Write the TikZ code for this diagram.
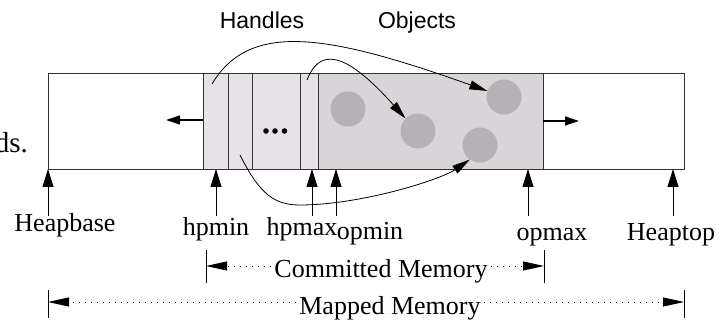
\documentclass[tikz,border=0pt]{standalone}
\usepackage{fontspec}
\setmainfont{Liberation Serif}
\setsansfont{Liberation Sans}
\usetikzlibrary{arrows.meta}
\definecolor{hfill}{HTML}{E6E2E8}
\definecolor{ofill}{HTML}{D8D4D8}
\definecolor{cfill}{HTML}{B5B1B5}
\definecolor{edgec}{HTML}{333333}
\begin{document}
\begin{tikzpicture}[x=1pt,y=-1pt,
  box/.style={draw=edgec,line width=0.9pt},
  obj/.style={circle,fill=cfill,minimum size=35pt,inner sep=0pt},
  lbl/.style={font=\fontsize{26}{28}\selectfont,anchor=base,inner sep=0pt},
  slbl/.style={font=\sffamily\fontsize{23}{26}\selectfont,anchor=base,inner sep=0pt},
  ptr/.style={line width=0.9pt,-{Triangle[length=18pt,width=11pt]}},
  growarrow/.style={line width=1.2pt,-{Triangle[length=14pt,width=9pt]}},
  link/.style={line width=0.8pt,-{Triangle[length=18pt,width=9pt]}},
  dimline/.style={line width=0.9pt,dash pattern=on 1pt off 5pt,-{Triangle[length=21pt,width=9pt]}},
  tickline/.style={line width=0.9pt},
]
\useasboundingbox (0,0) rectangle (726,320);
\fill[white] (0,0) rectangle (726,320);
% clipped fragment of text (cut off in the reference as well)
\node[font=\fontsize{29}{30}\selectfont,anchor=base east,inner sep=0pt] (frag) at (28,153) {ds.};
% heap
\draw[box] (48,73) rectangle (684,169);
\filldraw[box,fill=hfill] (203,73) rectangle (318,169);
\filldraw[box,fill=ofill] (318,73) rectangle (543,169);
\draw[box] (228,73) -- (228,169);
\draw[box] (252,73) -- (252,169);
\draw[box] (300,73) -- (300,169);
% dots
\fill (266,131) circle[radius=2.8pt];
\fill (275,131) circle[radius=2.8pt];
\fill (284.5,131) circle[radius=2.8pt];
% objects
\node[obj] (o1) at (348,109) {};
\node[obj] (o2) at (418,131) {};
\node[obj] (o3) at (504,97) {};
\node[obj] (o4) at (480,145) {};
% growth arrows
\coordinate (gl0) at (203,120);
\coordinate (gl1) at (166,120);
\coordinate (gr0) at (543,121);
\coordinate (gr1) at (579,121);
\draw[growarrow] (gl0) -- (gl1);
\draw[growarrow] (gr0) -- (gr1);
% handle links
\coordinate (h1) at (212,84);
\coordinate (h2) at (307,80);
\coordinate (h3) at (240,155);
\draw[link] (h1) .. controls (250,20) and (330,35) .. (o3.160);
\draw[link] (h2) .. controls (318,52) and (340,45) .. (o2.135);
\draw[link] (h3) .. controls (260,195) and (275,205) .. (300,205) .. controls (360,205) and (440,180) .. (o4.235);
% titles
\node[slbl] (hl) at (262,29) {Handles};
\node[slbl] (ol) at (417,29) {Objects};
% pointers
\foreach \n/\x in {hb/48,hpn/216,hpx/312,opn/336,opx/528,ht/673}{
  \coordinate (\n T) at (\x,169);
  \coordinate (\n B) at (\x,216);
  \draw[ptr] (\n B) -- (\n T);
}
\node[lbl] (lhb) at (65,232) {Heapbase};
\node[lbl] (lhpn) at (216,236) {hpmin};
\node[lbl] (lhpx) at (302,236) {hpmax};
\node[lbl] (lopn) at (370,240) {opmin};
\node[lbl] (lopx) at (552,241) {opmax};
\node[lbl] (lht) at (671,241) {Heaptop};
% committed memory
\node[lbl] (cm) at (381,278) {Committed Memory};
\coordinate (cmL) at (206,266);
\coordinate (cmR) at (544,266);
\draw[tickline] (206,250) -- (206,283);
\draw[tickline] (544,250) -- (544,283);
\draw[dimline] ([xshift=-3pt]cm.west |- cmL) -- (cmL);
\draw[dimline] ([xshift=3pt]cm.east |- cmR) -- (cmR);
% mapped memory
\node[lbl] (mm) at (390,315) {Mapped Memory};
\coordinate (mmL) at (48,302);
\coordinate (mmR) at (684,302);
\draw[tickline] (48,290) -- (48,318);
\draw[tickline] (684,290) -- (684,318);
\draw[dimline] ([xshift=-3pt]mm.west |- mmL) -- (mmL);
\draw[dimline] ([xshift=3pt]mm.east |- mmR) -- (mmR);
\end{tikzpicture}
\end{document}
